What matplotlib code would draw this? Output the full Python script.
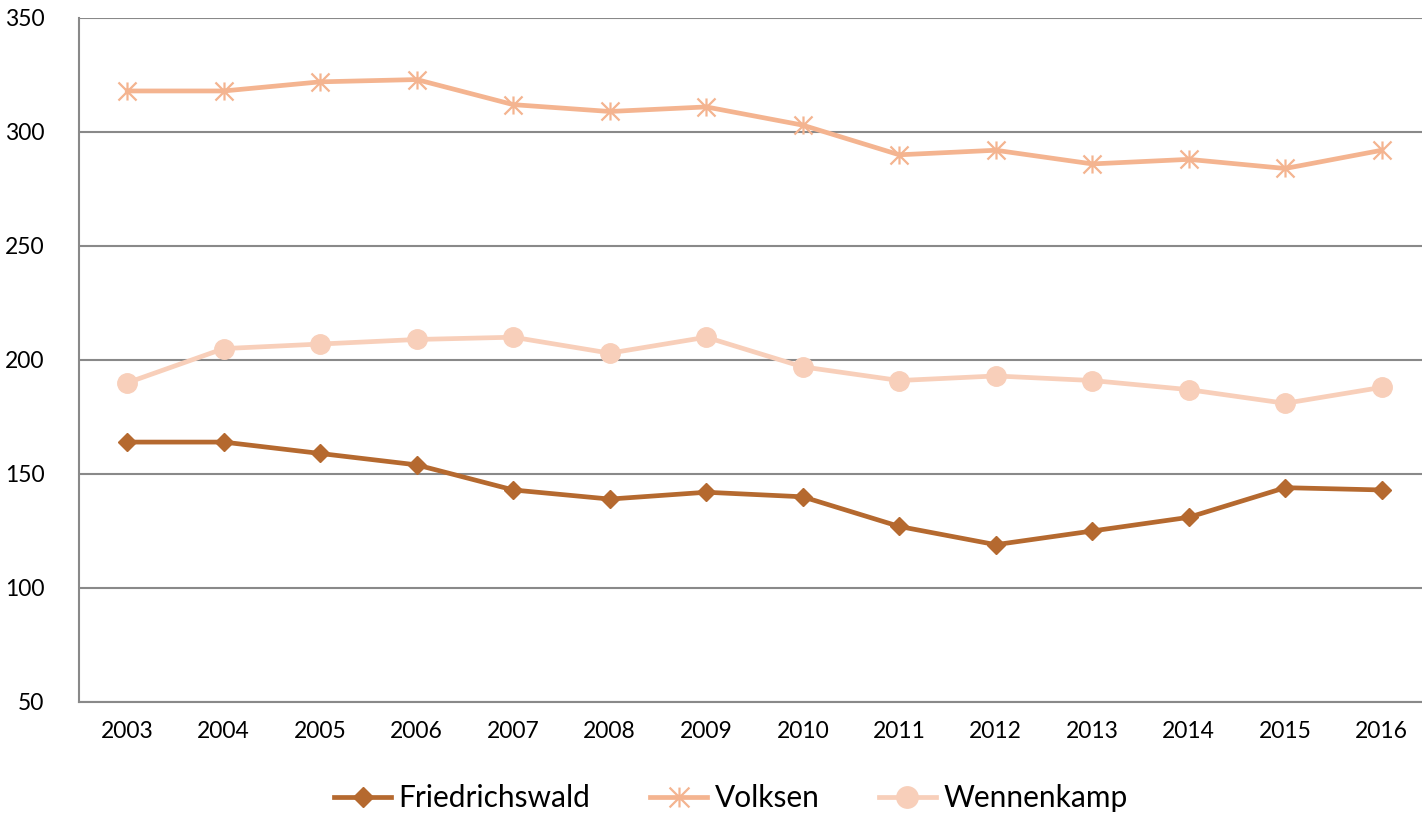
import matplotlib
matplotlib.use("Agg")
import matplotlib.pyplot as plt
from matplotlib.path import Path

plt.rcParams['font.family'] = ['Lato', 'DejaVu Sans']

years = ["2003", "2004", "2005", "2006", "2007", "2008", "2009",
         "2010", "2011", "2012", "2013", "2014", "2015", "2016"]
friedrichswald = [164, 164, 159, 154, 143, 139, 142, 140, 127, 119, 125, 131, 144, 143]
volksen = [318, 318, 322, 323, 312, 309, 311, 303, 290, 292, 286, 288, 284, 292]
wennenkamp = [190, 205, 207, 209, 210, 203, 210, 197, 191, 193, 191, 187, 181, 188]

c_fr = '#B5692F'
c_vo = '#F4B490'
c_we = '#F8CFBA'

star = Path([(0, -1), (0, 1), (-1, -1), (1, 1), (-1, 1), (1, -1)],
            [Path.MOVETO, Path.LINETO, Path.MOVETO, Path.LINETO, Path.MOVETO, Path.LINETO])

W, H = 1422, 816
fig = plt.figure(figsize=(W / 100, H / 100), dpi=100)
ax = fig.add_axes([79 / W, 1 - 702 / H, 1351 / W, 684 / H])

x = list(range(len(years)))
ax.plot(x, friedrichswald, color=c_fr, lw=3.4, marker='D', ms=9.5,
        mfc=c_fr, mec=c_fr, label='Friedrichswald', zorder=3)
ax.plot(x, volksen, color=c_vo, lw=3.4, marker=star, ms=13, mew=1.6,
        mfc=c_vo, mec=c_vo, label='Volksen', zorder=3)
ax.plot(x, wennenkamp, color=c_we, lw=3.4, marker='o', ms=14,
        mfc=c_we, mec=c_we, label='Wennenkamp', zorder=3)

ax.set_xlim(-0.5, len(years) - 0.5)
ax.set_ylim(50, 350)
ax.set_yticks(range(50, 351, 50))
ax.set_xticks(x)
ax.set_xticklabels(years)
ax.grid(axis='y', color='#898989', lw=1.5, zorder=0)
ax.set_axisbelow(True)
for s in ['top', 'right']:
    ax.spines[s].set_visible(False)
for s in ['left', 'bottom']:
    ax.spines[s].set_color('#898989')
    ax.spines[s].set_linewidth(1.5)
ax.tick_params(axis='both', length=0, labelsize=16.5, colors='black')
ax.tick_params(axis='y', pad=25)
ax.tick_params(axis='x', pad=14)

fig.legend(loc='center', bbox_to_anchor=(731 / W, 1 - 798 / H), ncol=3,
           frameon=False, fontsize=21.5, handlelength=1.9, columnspacing=2.0,
           handletextpad=0.25, markerscale=1.1)

fig.savefig('out.png', dpi=100)
